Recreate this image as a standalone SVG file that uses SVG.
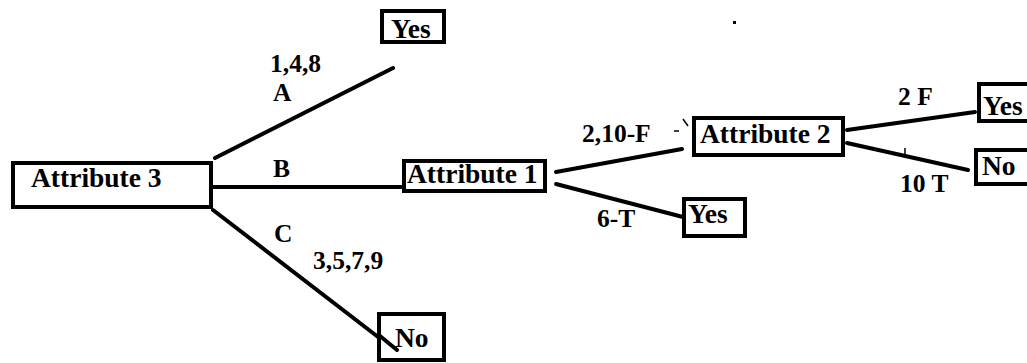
<svg xmlns="http://www.w3.org/2000/svg" width="1027" height="363" viewBox="0 0 1027 363">
<style>
.box{fill:#fff;stroke:#000;stroke-width:4}
.t{font-family:"Liberation Serif","Times New Roman",serif;font-weight:bold;font-size:27.5px;fill:#000}
.l{font-family:"Liberation Serif","Times New Roman",serif;font-weight:bold;font-size:25.5px;fill:#000}
.c{stroke:#000;stroke-width:4;fill:none;stroke-linecap:round}
.m{stroke:#000;stroke-width:1.5;fill:none}
</style>
<rect width="1027" height="363" fill="#fff"/>
<g id="connectors">
<line class="c" x1="215" y1="158" x2="393" y2="68"/>
<line class="c" x1="213" y1="187" x2="402" y2="187"/>
<line class="c" x1="213" y1="210" x2="395" y2="350"/>
<line class="c" x1="556" y1="172" x2="682" y2="149"/>
<line class="c" x1="556" y1="184" x2="683" y2="217"/>
<line class="c" x1="847" y1="130" x2="975" y2="112"/>
<line class="c" x1="847" y1="143" x2="968" y2="170"/>
</g>
<g id="labels">
<text class="l" x="270" y="72">1,4,8</text>
<text class="l" x="273" y="101">A</text>
<text class="l" x="273" y="177">B</text>
<text class="l" x="274" y="242">C</text>
<text class="l" x="313" y="269">3,5,7,9</text>
<text class="l" x="582" y="142">2,10-F</text>
<text class="l" x="597" y="227">6-T</text>
<text class="l" x="898" y="105">2 F</text>
<text class="l" x="900" y="192">10 T</text>
</g>
<g id="marks">
<line class="m" x1="674" y1="131" x2="679" y2="131"/>
<line class="m" x1="683" y1="119" x2="688" y2="126"/>
<line class="m" x1="905" y1="148" x2="905" y2="155"/>
<rect x="733" y="21" width="3" height="3" fill="#000"/>
</g>
<g id="attribute3">
<rect class="box" x="13" y="163" width="198" height="44"/>
<text class="t" x="31" y="187">Attribute 3</text>
</g>
<g id="yes-a">
<rect class="box" x="382" y="11" width="62" height="31"/>
<text class="t" x="391" y="38">Yes</text>
</g>
<g id="no-c">
<rect class="box" x="379" y="314" width="65" height="46"/>
<text class="t" x="395" y="347">No</text>
</g>
<line class="c" x1="380" y1="336" x2="397" y2="350"/>
<g id="attribute1">
<rect class="box" x="404" y="161" width="141" height="30"/>
<text class="t" x="407" y="183">Attribute 1</text>
</g>
<g id="attribute2">
<rect class="box" x="694" y="118" width="149" height="37"/>
<text class="t" x="700" y="143">Attribute 2</text>
</g>
<g id="yes-6t">
<rect class="box" x="684" y="199" width="61" height="37"/>
<text class="t" x="688" y="223">Yes</text>
</g>
<g id="yes-2f">
<rect class="box" x="979" y="84" width="60" height="37"/>
<text class="t" x="983" y="115">Yes</text>
</g>
<g id="no-10t">
<rect class="box" x="976" y="150" width="60" height="34"/>
<text class="t" x="982" y="175">No</text>
</g>
</svg>
